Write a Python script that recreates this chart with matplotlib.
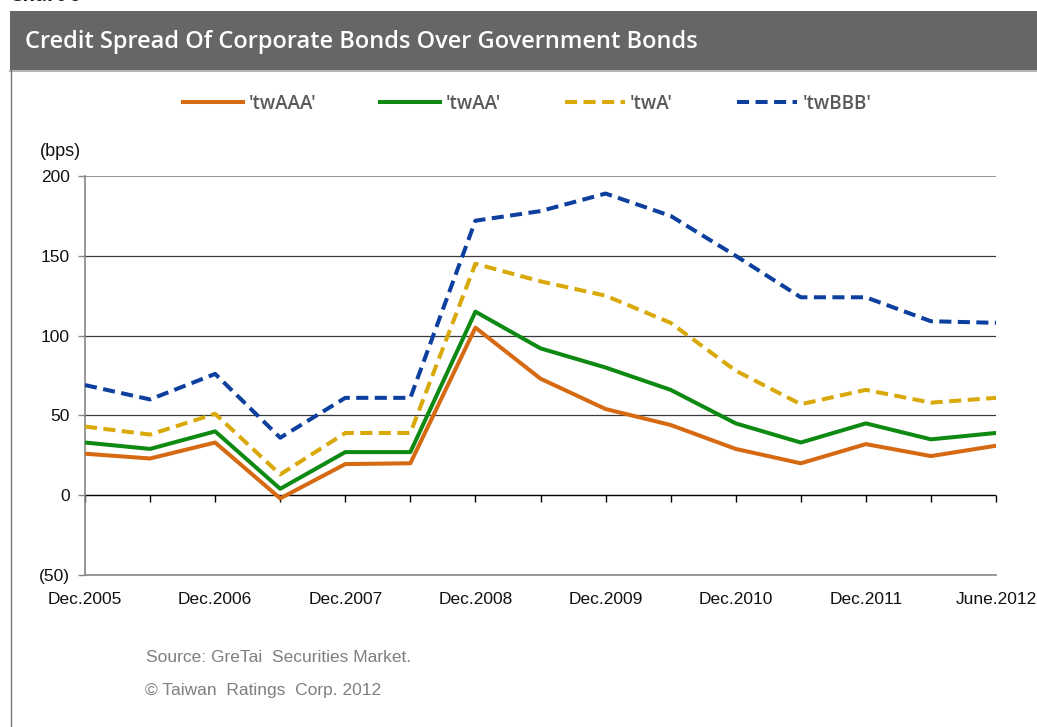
import matplotlib
matplotlib.use("Agg")
import matplotlib.pyplot as plt
from matplotlib.patches import Rectangle
from matplotlib.lines import Line2D
import numpy as np

periods = ["Dec.2005", "Jun.2006", "Dec.2006", "Jun.2007", "Dec.2007", "Jun.2008",
           "Dec.2008", "Jun.2009", "Dec.2009", "Jun.2010", "Dec.2010", "Jun.2011",
           "Dec.2011", "Dec.2011b", "June.2012"]
tick_labels = ["Dec.2005", "Dec.2006", "Dec.2007", "Dec.2008", "Dec.2009",
               "Dec.2010", "Dec.2011", "June.2012"]
tick_idx = [0, 2, 4, 6, 8, 10, 12, 14]

twAAA = [26, 23, 33, -2, 19.5, 20, 105, 73, 54, 44, 29, 20, 32, 24.5, 31]
twAA = [33, 29, 40, 4, 27, 27, 115, 92, 80, 66, 45, 33, 45, 35, 39]
twA = [43, 38, 51, 13, 39, 39, 145, 134, 125, 108, 78, 57, 66, 58, 61]
twBBB = [69, 60, 76, 36, 61, 61, 172, 178, 189, 175, 150, 124, 124, 109, 108]

series_names = ["'twAAA'", "'twAA'", "'twA'", "'twBBB'"]
colors = ["#D66A12", "#0E8A12", "#D9A90A", "#0C3F9E"]

W, H = 1037, 727
fig = plt.figure(figsize=(W / 100, H / 100), dpi=100)
fig.patch.set_facecolor("white")

# header band
fig.add_artist(Rectangle((10 / W, 1 - 70 / H), 1 - 10 / W, 59 / H,
                         transform=fig.transFigure, facecolor="#666666",
                         edgecolor="none", zorder=0))
fig.add_artist(Line2D([10 / W, 1], [1 - 70.5 / H, 1 - 70.5 / H],
                      transform=fig.transFigure, color="#B5B5B5", lw=1.5))
fig.add_artist(Line2D([10.5 / W, 10.5 / W], [0, 1 - 70 / H],
                      transform=fig.transFigure, color="#777777", lw=1.0))
fig.text(25 / W, 1 - 42 / H, "Credit Spread Of Corporate Bonds Over Government Bonds",
         color="white", fontsize=17, fontweight="semibold", family="Open Sans",
         va="center", ha="left")
fig.text(10 / W, 1 - 6 / H, "Chart 6", color="#222222", fontsize=14,
         fontweight="bold", family="Open Sans", va="bottom", ha="left")

ax = fig.add_axes([85 / W, 1 - 575 / H, (996 - 85) / W, (575 - 176) / H])
x = np.arange(len(twAAA))

dash = (3.0, 1.6)
lw = 2.9
ax.plot(x, twAAA, color=colors[0], lw=lw, label=series_names[0], zorder=3)
ax.plot(x, twAA, color=colors[1], lw=lw, label=series_names[1], zorder=4)
ax.plot(x, twA, color=colors[2], lw=lw, dashes=dash, label=series_names[2], zorder=3)
ax.plot(x, twBBB, color=colors[3], lw=lw, dashes=dash, label=series_names[3], zorder=3)

ax.set_xlim(0, 14)
ax.set_ylim(-50, 200)
yt = [-50, 0, 50, 100, 150, 200]
ax.set_yticks(yt)
ax.set_yticklabels(["(50)", "0", "50", "100", "150", "200"])
for v in [50, 100, 150]:
    ax.axhline(v, color="#3A3A3A", lw=0.9, zorder=1)
ax.axhline(200, color="#858585", lw=1.2, zorder=1)
ax.axhline(0, color="black", lw=1.0, zorder=2)

for s in ["top", "right"]:
    ax.spines[s].set_visible(False)
for s in ["left", "bottom"]:
    ax.spines[s].set_color("#858585")
    ax.spines[s].set_linewidth(1.2)

ax.set_xticks(tick_idx)
ax.set_xticklabels(tick_labels)
ax.tick_params(axis="x", length=0, pad=12, labelsize=12.5, labelcolor="#111111")
ax.tick_params(axis="y", length=5, width=1.0, color="#858585", pad=6,
               labelsize=12.5, labelcolor="#111111")
for lab in ax.get_xticklabels() + ax.get_yticklabels():
    lab.set_family("Liberation Sans")

sec = ax.secondary_xaxis(0.2)
sec.set_xticks(x)
sec.tick_params(axis="x", length=5, width=1.0, color="black", direction="out",
                labelbottom=False)
sec.set_xticklabels([])
sec.spines["bottom"].set_visible(False)

fig.text(40 / W, 1 - 152 / H, "(bps)", fontsize=13, family="Liberation Sans",
         color="#111111", va="center", ha="left")

leg = fig.legend(loc="center left", bbox_to_anchor=(166 / W, 1 - 104 / H),
                 ncol=4, frameon=False, handlelength=3.2, handletextpad=0.3,
                 columnspacing=3.4,
                 prop={"family": "Open Sans", "weight": "semibold", "size": 13.5})
for t in leg.get_texts():
    t.set_color("#595959")

fig.text(146 / W, 1 - 658 / H, "Source: GreTai  Securities Market.", fontsize=12.5,
         family="Liberation Sans", color="#7F7F7F", va="center", ha="left")
fig.text(145 / W, 1 - 690 / H, "\u00a9 Taiwan  Ratings  Corp. 2012", fontsize=12.5,
         family="Liberation Sans", color="#7F7F7F", va="center", ha="left")

fig.savefig("out.png", dpi=100)
